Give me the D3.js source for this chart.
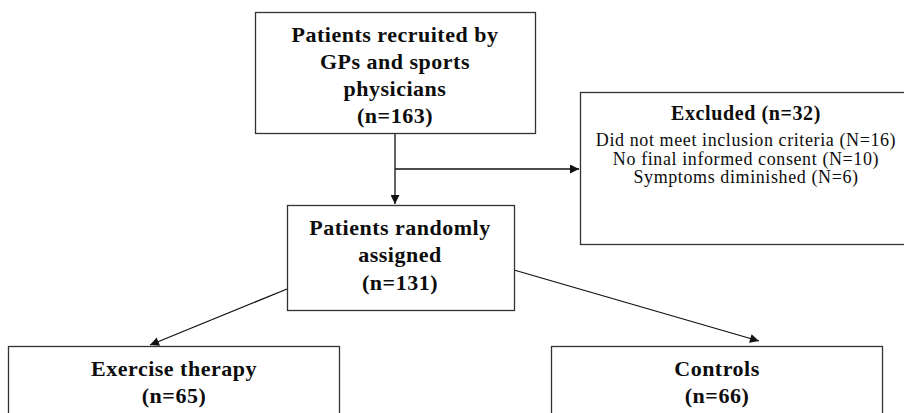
<!DOCTYPE html>
<html>
  <head>
    <meta charset="utf-8">
    <script src="https://d3js.org/d3.v7.min.js"></script>
    <title>Flow chart</title>
    <style type="text/css">
      body { margin: 0; background: #fff; }
      svg { display: block; }
      .box { fill: #fff; stroke: #333; stroke-width: 1.3; }
      .link { stroke: #111; stroke-width: 1.3; fill: none; }
      text { font-family: "Liberation Serif", "Times New Roman", serif; fill: #0d0d0d; }
      .bold { font-weight: bold; font-size: 22px; letter-spacing: 0.5px; }
      .head { font-weight: bold; font-size: 20px; letter-spacing: 0.6px; }
      .plain { font-size: 18px; letter-spacing: 0.6px; }
    </style>
  </head>
  <body>
    <div id="flow"></div>
    <script type="text/javascript">
      // text of each box
      var boxNames = ["recruited", "excluded", "assigned", "exercise", "controls"];
      var boxTitles = [
        ["Patients recruited by", "GPs and sports", "physicians", "(n=163)"],
        ["Excluded (n=32)"],
        ["Patients randomly", "assigned", "(n=131)"],
        ["Exercise therapy", "(n=65)"],
        ["Controls", "(n=66)"]
      ];
      var boxDetails = [
        [],
        ["Did not meet inclusion criteria (N=16)",
         "No final informed consent (N=10)",
         "Symptoms diminished (N=6)"],
        [], [], []
      ];

      var width = 904,
          height = 413;

      // layout, in pixels of the page
      var layout = {
        recruited: {x: 255, y: 12, w: 280, h: 121, textX: 395, textY: 34, step: 27, cls: "bold"},
        excluded:  {x: 580, y: 92, w: 340, h: 152, textX: 746, textY: 113, step: 18.5, cls: "head"},
        assigned:  {x: 287, y: 205, w: 227, h: 105, textX: 400, textY: 227, step: 27.5, cls: "bold"},
        exercise:  {x: 8, y: 346, w: 331, h: 100, textX: 174, textY: 368, step: 27, cls: "bold"},
        controls:  {x: 551, y: 346, w: 331, h: 100, textX: 717, textY: 368, step: 27, cls: "bold"}
      };

      var links = [
        [[395, 133], [395, 204]],
        [[395, 169], [579, 169]],
        [[287, 289], [150, 345]],
        [[514, 270], [759, 341]]
      ];

      var svg = d3.select("#flow")
        .append("svg")
        .attr("width", width)
        .attr("height", height);

      svg.append("defs").append("marker")
        .attr("id", "head")
        .attr("viewBox", "0 0 10 10")
        .attr("refX", 10)
        .attr("refY", 5)
        .attr("markerWidth", 10)
        .attr("markerHeight", 9)
        .attr("markerUnits", "userSpaceOnUse")
        .attr("orient", "auto")
        .append("path")
        .attr("d", "M0,0L10,5L0,10Z")
        .attr("fill", "#111");

      var line = d3.line();

      svg.selectAll("path.link")
        .data(links)
        .enter()
          .append("path")
          .attr("class", "link")
          .attr("d", line)
          .attr("marker-end", "url(#head)");

      var boxes = svg.selectAll("g.node")
        .data(boxNames)
        .enter()
          .append("g")
          .attr("class", "node");

      boxes.append("rect")
        .attr("class", "box")
        .attr("x", function(d) { return layout[d].x + 0.5; })
        .attr("y", function(d) { return layout[d].y + 0.5; })
        .attr("width", function(d) { return layout[d].w; })
        .attr("height", function(d) { return layout[d].h; });

      boxes.each(function(d, i) {
        var g = d3.select(this),
            L = layout[d],
            rows = boxTitles[i].map(function(t) { return {t: t, cls: L.cls}; })
              .concat(boxDetails[i].map(function(t) { return {t: t, cls: "plain"}; }));

        var y = L.textY;
        rows.forEach(function(r, j) {
          // first detail row sits a bit further below the title
          if (j > 0) y += (j == boxTitles[i].length && r.cls == "plain") ? 27 : L.step;
          g.append("text")
            .attr("class", r.cls)
            .attr("x", L.textX)
            .attr("y", y)
            .attr("dy", "0.35em")
            .attr("text-anchor", "middle")
            .text(r.t);
        });
      });
    </script>
  </body>
</html>
